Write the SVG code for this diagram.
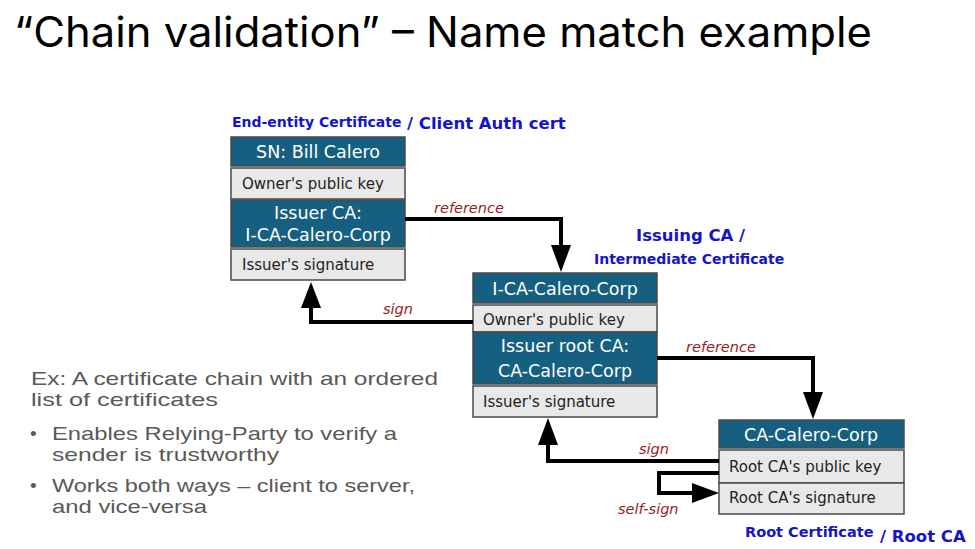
<svg xmlns="http://www.w3.org/2000/svg" width="975" height="549" viewBox="0 0 975 549">
<style>
.title{font-family:Inter,"Liberation Sans",sans-serif;font-size:42px;fill:#000}
.body{font-family:"Liberation Sans",Arial,sans-serif;font-size:19px;fill:#595959}
.blue{font-family:"DejaVu Sans",sans-serif;font-weight:bold;fill:#1414c8}
.hdr{fill:#165f80;stroke:#4a4a4a;stroke-width:1.5}
.row{fill:#e8e8e8;stroke:#4a4a4a;stroke-width:1.5}
.ht{font-family:"DejaVu Sans",sans-serif;font-size:17.5px;fill:#fff;text-anchor:middle}
.rt{font-family:"DejaVu Sans",sans-serif;font-size:15px;fill:#222}
.lbl{font-family:"DejaVu Sans",sans-serif;font-style:italic;font-size:14.5px;fill:#9b1c1c}
.wire{fill:none;stroke:#000;stroke-width:4}
</style>
<text class="title" x="14" y="47" textLength="858" lengthAdjust="spacingAndGlyphs">“Chain validation” – Name match example</text>

<g id="notes">
<text class="body"><tspan x="31" y="385" textLength="407" lengthAdjust="spacingAndGlyphs">Ex: A certificate chain with an ordered</tspan><tspan x="31" y="406" textLength="187" lengthAdjust="spacingAndGlyphs">list of certificates</tspan></text>
<text class="body"><tspan x="30" y="440">•</tspan><tspan x="52" y="440" textLength="345" lengthAdjust="spacingAndGlyphs">Enables Relying-Party to verify a</tspan><tspan x="52" y="461" textLength="227" lengthAdjust="spacingAndGlyphs">sender is trustworthy</tspan></text>
<text class="body"><tspan x="30" y="492">•</tspan><tspan x="52" y="492" textLength="363" lengthAdjust="spacingAndGlyphs">Works both ways – client to server,</tspan><tspan x="52" y="513" textLength="155" lengthAdjust="spacingAndGlyphs">and vice-versa</tspan></text>
</g>

<g id="cert-end-entity">
<text class="blue" x="232" y="127" font-size="14">End-entity Certificate</text>
<text class="blue" x="407" y="129" font-size="16.5">/ Client Auth cert</text>
<rect class="hdr" x="231" y="137" width="174" height="29"/>
<text class="ht" x="318" y="158">SN: Bill Calero</text>
<rect class="row" x="231" y="168" width="174" height="31"/>
<text class="rt" x="242" y="189">Owner's public key</text>
<rect class="hdr" x="231" y="200" width="174" height="47"/>
<text class="ht" x="318" y="219">Issuer CA:</text>
<text class="ht" x="318" y="241">I-CA-Calero-Corp</text>
<rect class="row" x="231" y="249" width="174" height="31"/>
<text class="rt" x="242" y="270">Issuer's signature</text>
</g>

<g id="cert-intermediate">
<text class="blue" x="636" y="241" font-size="16.5">Issuing CA /</text>
<text class="blue" x="594" y="264" font-size="14">Intermediate Certificate</text>
<rect class="hdr" x="473" y="273" width="184" height="30"/>
<text class="ht" x="565" y="295">I-CA-Calero-Corp</text>
<rect class="row" x="473" y="305" width="184" height="27"/>
<text class="rt" x="483" y="325">Owner's public key</text>
<rect class="hdr" x="473" y="332" width="184" height="52"/>
<text class="ht" x="565" y="352">Issuer root CA:</text>
<text class="ht" x="565" y="377">CA-Calero-Corp</text>
<rect class="row" x="473" y="386" width="184" height="31"/>
<text class="rt" x="483" y="407">Issuer's signature</text>
</g>

<g id="cert-root">
<rect class="hdr" x="719" y="420" width="185" height="28"/>
<text class="ht" x="811" y="441">CA-Calero-Corp</text>
<rect class="row" x="719" y="450" width="185" height="33"/>
<text class="rt" x="729" y="472">Root CA's public key</text>
<rect class="row" x="719" y="483" width="185" height="31"/>
<text class="rt" x="729" y="503">Root CA's signature</text>
<text class="blue" x="745" y="537" font-size="14.5">Root Certificate</text>
<text class="blue" x="880" y="542" font-size="16.5">/ Root CA</text>
</g>

<g id="connectors">
<path class="wire" d="M405 219 H561 V250"/>
<polygon points="551,245 571,245 561,272"/>
<text class="lbl" x="434" y="213">reference</text>

<path class="wire" d="M473 322 H311 V302"/>
<polygon points="301,308 321,308 311,282"/>
<text class="lbl" x="383" y="314">sign</text>

<path class="wire" d="M657 358 H813 V395"/>
<polygon points="803,392 823,392 813,419"/>
<text class="lbl" x="686" y="352">reference</text>

<path class="wire" d="M719 461 H548 V440"/>
<polygon points="538,445 558,445 548,418"/>
<text class="lbl" x="639" y="454">sign</text>

<path class="wire" d="M719 473 H659 V493 H697"/>
<polygon points="692,483 692,503 719,493"/>
<text class="lbl" x="618" y="514">self-sign</text>
</g>
</svg>
